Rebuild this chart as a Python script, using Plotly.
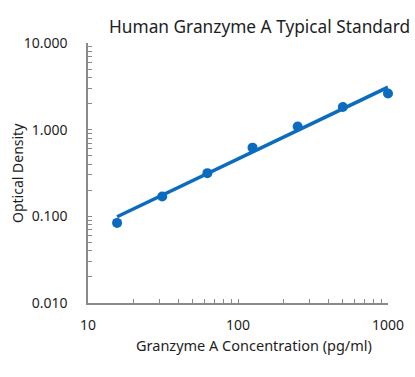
import plotly.graph_objects as go

# Standard curve data
conc = [15.625, 31.25, 62.5, 125, 250, 500, 1000]
od = [0.084, 0.169, 0.315, 0.62, 1.09, 1.83, 2.61]

# Fitted curve
fit_conc = [15.625, 31.25, 62.5, 125, 250, 500, 1000]
fit_od = [0.099, 0.176, 0.312, 0.553, 0.98, 1.74, 3.09]

x_tickvals = [10, 100, 1000]
x_ticktext = ["10", "100", "1000"]
y_tickvals = [0.01, 0.1, 1, 10]
y_ticktext = ["0.010", "0.100", "1.000", "10.000"]
mantissas = [2, 3, 4, 5, 6, 7, 8, 9]
x_minor = [m * d for d in [10, 100] for m in mantissas]
y_minor = [m * d for d in [0.01, 0.1, 1] for m in mantissas]

title_text = "Human Granzyme A Typical Standard"
x_title = "Granzyme A Concentration (pg/ml)"
y_title = "Optical Density"

BLUE = "#0b6cbf"
AX = "#8a8a8a"
FONT = "Noto Sans"
TXT = "#1e1e1e"

fig = go.Figure()
fig.add_trace(go.Scatter(x=fit_conc, y=fit_od, mode="lines", cliponaxis=False,
                         line=dict(color=BLUE, width=3.5), showlegend=False, hoverinfo="skip"))
fig.add_trace(go.Scatter(x=conc, y=od, mode="markers", cliponaxis=False,
                         marker=dict(color=BLUE, size=10), showlegend=False))

W, H = 415, 377
L, R, T, B = 88, 27, 43, 74

axis_common = dict(type="log", showgrid=False, zeroline=False, showline=True,
                   linecolor=AX, linewidth=1.5, ticks="inside", ticklen=4,
                   tickcolor=AX, tickwidth=1, automargin=False,
                   tickfont=dict(size=14, color=TXT))

fig.update_layout(
    width=W, height=H,
    margin=dict(l=L, r=R, t=T, b=B, pad=0, autoexpand=False),
    paper_bgcolor="white", plot_bgcolor="white",
    font=dict(family=FONT, size=13, color=TXT),
    xaxis=dict(range=[1, 3], tickvals=x_tickvals, ticktext=x_ticktext,
               ticklabelstandoff=8,
               minor=dict(ticks="inside", ticklen=4, tickcolor=AX, tickmode="array",
                          tickvals=x_minor, showgrid=False),
               **axis_common),
    yaxis=dict(range=[-2, 1], tickvals=y_tickvals, ticktext=y_ticktext,
               ticklabelstandoff=16,
               minor=dict(ticks="inside", ticklen=4, tickcolor=AX, tickmode="array",
                          tickvals=y_minor, showgrid=False),
               **axis_common),
    annotations=[
        dict(text=title_text, x=259, y=26, font=dict(size=17.3, color=TXT)),
        dict(text=x_title, x=254, y=345, font=dict(size=14.5, color=TXT)),
        dict(text=y_title, x=17, y=173, textangle=-90, font=dict(size=14, color=TXT)),
    ],
)

# convert pixel positions (from top-left) to paper coordinates
pw, ph = W - L - R, H - T - B
for a in fig.layout.annotations:
    a.x = (a.x - L) / pw
    a.y = (H - a.y - B) / ph
    a.xref = "paper"
    a.yref = "paper"
    a.showarrow = False
    a.xanchor = "center"
    a.yanchor = "middle"

fig.write_html("out.html", config={"displayModeBar": False},
               post_script="document.body.style.margin='0';")
